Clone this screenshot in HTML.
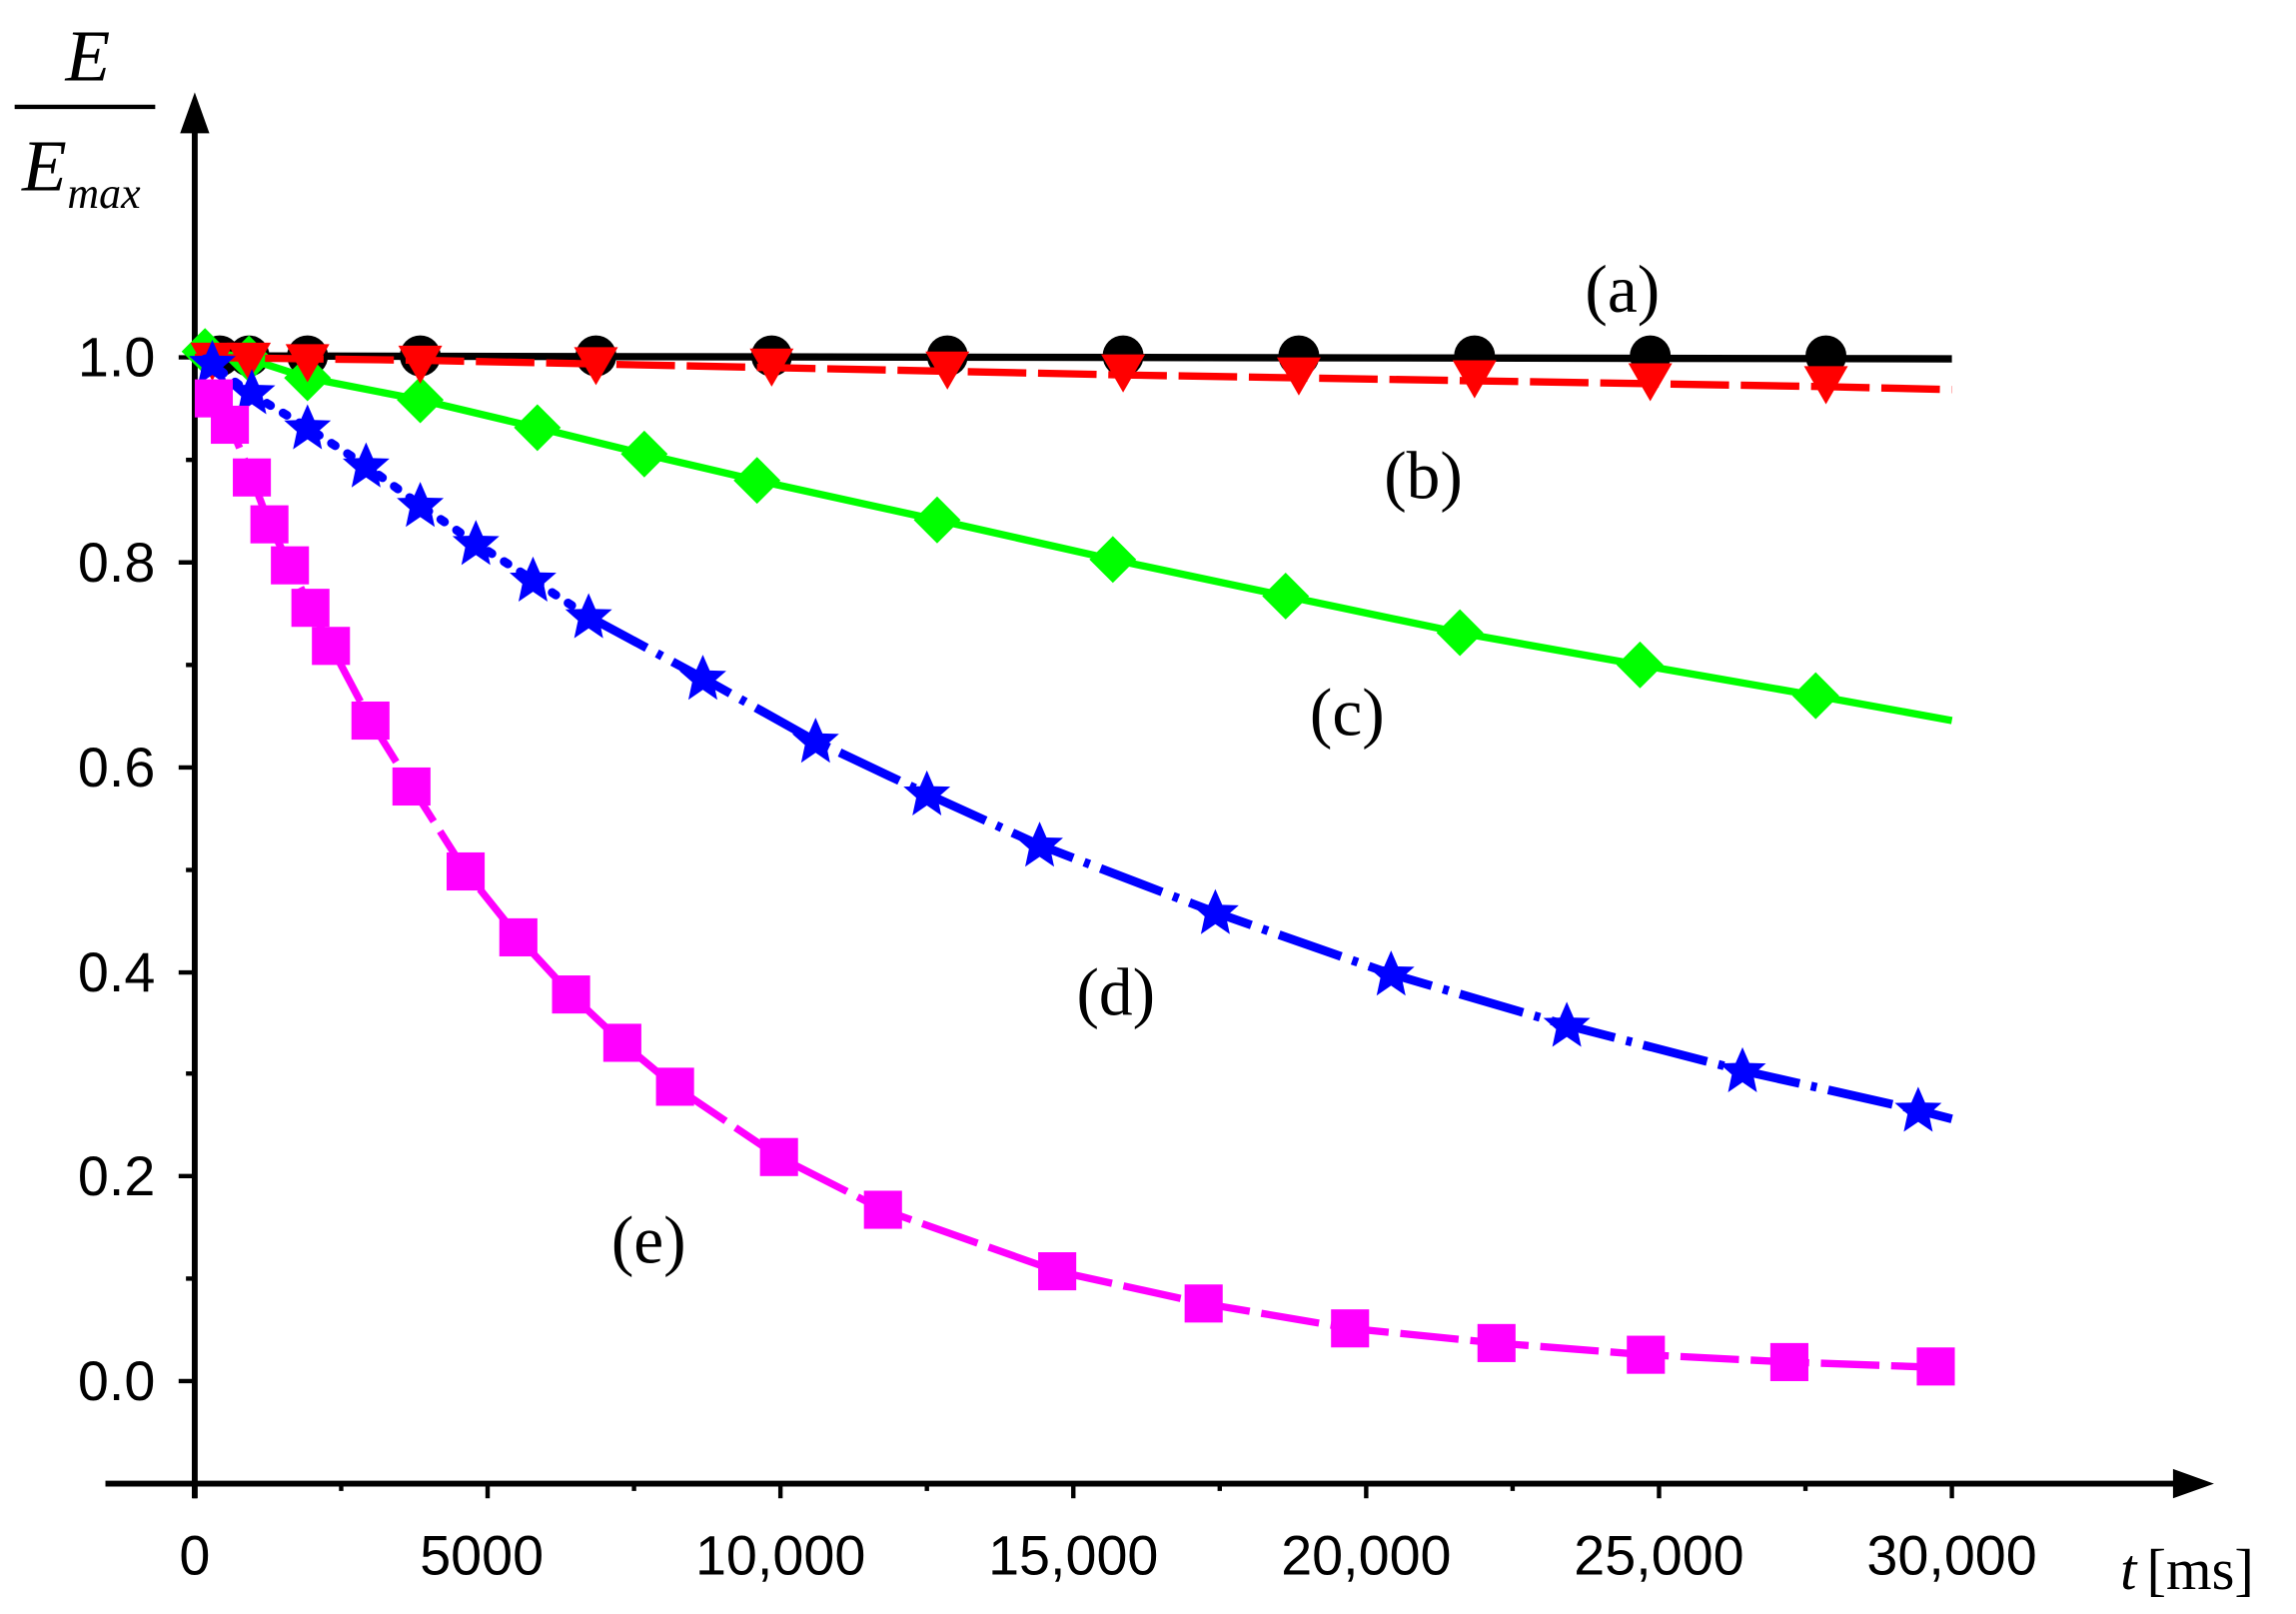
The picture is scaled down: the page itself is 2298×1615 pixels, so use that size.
<!DOCTYPE html><html><head><style>body{margin:0;background:#fff}svg{display:block}</style></head><body>
<svg width="2298" height="1615" viewBox="0 0 1568 1102" preserveAspectRatio="none" xmlns="http://www.w3.org/2000/svg">
<defs>
<path id="st" d="M0,-16 L4.7,-5.2 16,-4.9 7.3,2.7 9.9,14.8 0,8 -9.9,14.8 -7.3,2.7 -16,-4.9 -4.7,-5.2Z" fill="#00f"/>
<path id="dm" d="M0,-16l16,16-16,16-16-16z" fill="#0f0"/>
<path id="tr" d="M-15,-11h30l-15,26z" fill="#f00"/>
<rect id="sq" x="-13" y="-13" width="26" height="26" fill="#f0f"/>
</defs>
<g stroke="#000" stroke-width="4" fill="none">
<line x1="133" y1="1023" x2="133" y2="80"/>
<line x1="72" y1="1013" x2="1495" y2="1013"/>
<g stroke-width="3">
<line x1="133" y1="1013" x2="133" y2="1023"/><line x1="333" y1="1013" x2="333" y2="1023"/><line x1="533" y1="1013" x2="533" y2="1023"/><line x1="733" y1="1013" x2="733" y2="1023"/><line x1="933" y1="1013" x2="933" y2="1023"/><line x1="1133" y1="1013" x2="1133" y2="1023"/><line x1="1333" y1="1013" x2="1333" y2="1023"/>
<line x1="233" y1="1013" x2="233" y2="1018"/><line x1="433" y1="1013" x2="433" y2="1018"/><line x1="633" y1="1013" x2="633" y2="1018"/><line x1="833" y1="1013" x2="833" y2="1018"/><line x1="1033" y1="1013" x2="1033" y2="1018"/><line x1="1233" y1="1013" x2="1233" y2="1018"/>
<line x1="122" y1="943" x2="133" y2="943"/><line x1="122" y1="803" x2="133" y2="803"/><line x1="122" y1="664" x2="133" y2="664"/><line x1="122" y1="524" x2="133" y2="524"/><line x1="122" y1="384" x2="133" y2="384"/><line x1="122" y1="244" x2="133" y2="244"/>
<line x1="127" y1="873" x2="133" y2="873"/><line x1="127" y1="733" x2="133" y2="733"/><line x1="127" y1="594" x2="133" y2="594"/><line x1="127" y1="454" x2="133" y2="454"/><line x1="127" y1="314" x2="133" y2="314"/>
</g>
<line x1="10" y1="73" x2="106" y2="73" stroke-width="3"/>
</g>
<polygon points="133,63 123,91 143,91" fill="#000"/>
<polygon points="1512,1013 1484,1003 1484,1023" fill="#000"/>
<g font-family="Liberation Sans, sans-serif" font-size="38" fill="#000">
<g text-anchor="end"><text x="106" y="956">0.0</text><text x="106" y="816">0.2</text><text x="106" y="677">0.4</text><text x="106" y="537">0.6</text><text x="106" y="397">0.8</text><text x="106" y="257">1.0</text></g>
<g text-anchor="middle"><text x="133" y="1075">0</text><text x="329" y="1075">5000</text><text x="533" y="1075">10,000</text><text x="733" y="1075">15,000</text><text x="933" y="1075">20,000</text><text x="1133" y="1075">25,000</text><text x="1333" y="1075">30,000</text></g>
</g>
<g font-family="Liberation Serif, serif" fill="#000">
<text x="60" y="55" font-size="50" font-style="italic" text-anchor="middle">E</text>
<text x="15" y="130" font-size="50" font-style="italic">E</text>
<text x="46" y="142" font-size="30" font-style="italic">max</text>
<text x="1448" y="1085" font-size="40" font-style="italic">t</text>
<text x="1466" y="1085" font-size="40">[ms]</text>
<g font-size="46" text-anchor="middle"><text x="1108" y="213">(a)</text><text x="972" y="340">(b)</text><text x="920" y="502">(c)</text><text x="762" y="693">(d)</text><text x="443" y="862">(e)</text></g>
</g>
<polyline points="133,243 1333,245" stroke="#000" stroke-width="5" fill="none"/>
<g fill="#000"><circle cx="150" cy="243" r="14"/><circle cx="170" cy="243" r="14"/><circle cx="210" cy="243" r="14"/><circle cx="287" cy="243" r="14"/><circle cx="407" cy="243" r="14"/><circle cx="527" cy="243" r="14"/><circle cx="647" cy="243" r="14"/><circle cx="767" cy="243" r="14"/><circle cx="887" cy="243" r="14"/><circle cx="1007" cy="243" r="14"/><circle cx="1127" cy="243" r="14"/><circle cx="1247" cy="243" r="14"/></g>
<polyline points="135,238 170,245 210,258 287,273 367,292 440,310 517,328 640,355 760,382 878,407 997,432 1120,454 1240,475 1333,492" stroke="#0f0" stroke-width="5" fill="none"/>
<g><use href="#dm" x="140" y="240"/><use href="#dm" x="170" y="245"/><use href="#dm" x="210" y="258"/><use href="#dm" x="287" y="273"/><use href="#dm" x="367" y="292"/><use href="#dm" x="440" y="310"/><use href="#dm" x="517" y="328"/><use href="#dm" x="640" y="355"/><use href="#dm" x="760" y="382"/><use href="#dm" x="878" y="407"/><use href="#dm" x="997" y="432"/><use href="#dm" x="1120" y="454"/><use href="#dm" x="1240" y="475"/></g>
<polyline points="133,244 287,246 527,251 767,256 1007,260 1247,264 1333,266" stroke="#f00" stroke-width="5" stroke-dasharray="40,8" fill="none"/>
<g><use href="#tr" x="145" y="245"/><use href="#tr" x="170" y="245"/><use href="#tr" x="210" y="246"/><use href="#tr" x="287" y="247"/><use href="#tr" x="407" y="248"/><use href="#tr" x="527" y="249"/><use href="#tr" x="647" y="251"/><use href="#tr" x="767" y="253"/><use href="#tr" x="887" y="255"/><use href="#tr" x="1007" y="257"/><use href="#tr" x="1127" y="259"/><use href="#tr" x="1247" y="261"/></g>
<polyline points="140,245 170,268 210,292 250,318 287,345 325,371 364,396 402,421" stroke="#00f" stroke-width="6" stroke-dasharray="3,10" stroke-linecap="round" fill="none"/>
<polyline points="402,421 480,463 557,506 633,542 710,577 830,623 950,665 1070,700 1190,731 1310,758 1333,764" stroke="#00f" stroke-width="6" stroke-dasharray="45,8,4,8" fill="none"/>
<g><use href="#st" x="145" y="248"/><use href="#st" x="172" y="268"/><use href="#st" x="210" y="292"/><use href="#st" x="250" y="318"/><use href="#st" x="287" y="345"/><use href="#st" x="325" y="371"/><use href="#st" x="364" y="396"/><use href="#st" x="402" y="421"/><use href="#st" x="480" y="463"/><use href="#st" x="557" y="506"/><use href="#st" x="633" y="542"/><use href="#st" x="710" y="577"/><use href="#st" x="830" y="623"/><use href="#st" x="950" y="665"/><use href="#st" x="1070" y="700"/><use href="#st" x="1190" y="731"/><use href="#st" x="1310" y="758"/></g>
<polyline points="143,272 157,290 172,326 184,358 198,386 212,415 226,441 253,492 281,537 318,595 354,640 390,679 425,712 461,742 532,790 603,826 722,868 822,890 922,907 1022,917 1124,925 1222,930 1333,934" stroke="#f0f" stroke-width="5" stroke-dasharray="40,8" fill="none"/>
<g><use href="#sq" x="146" y="272"/><use href="#sq" x="157" y="290"/><use href="#sq" x="172" y="326"/><use href="#sq" x="184" y="358"/><use href="#sq" x="198" y="386"/><use href="#sq" x="212" y="415"/><use href="#sq" x="226" y="441"/><use href="#sq" x="253" y="492"/><use href="#sq" x="281" y="537"/><use href="#sq" x="318" y="595"/><use href="#sq" x="354" y="640"/><use href="#sq" x="390" y="679"/><use href="#sq" x="425" y="712"/><use href="#sq" x="461" y="742"/><use href="#sq" x="532" y="790"/><use href="#sq" x="603" y="826"/><use href="#sq" x="722" y="868"/><use href="#sq" x="822" y="890"/><use href="#sq" x="922" y="907"/><use href="#sq" x="1022" y="917"/><use href="#sq" x="1124" y="925"/><use href="#sq" x="1222" y="930"/><use href="#sq" x="1322" y="933"/></g>
</svg>
</body></html>
